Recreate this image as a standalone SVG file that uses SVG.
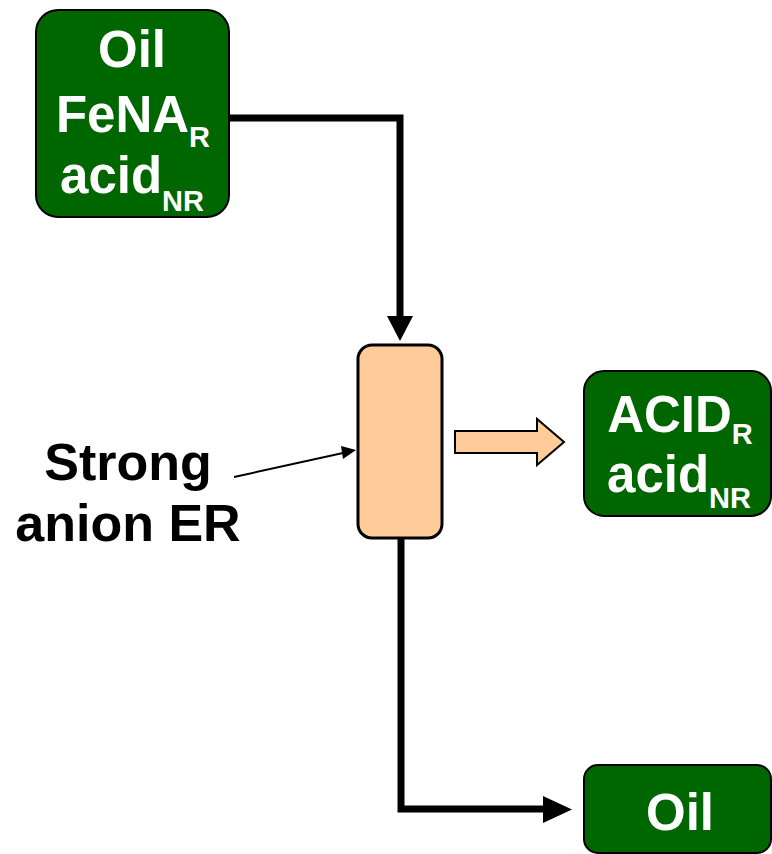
<svg xmlns="http://www.w3.org/2000/svg" width="772" height="854" viewBox="0 0 772 854">
<style>
.box{fill:#006600;stroke:#000;stroke-width:2}
.col{fill:#FFCC99;stroke:#000;stroke-width:3}
.wt{font-family:"Liberation Sans",Arial,sans-serif;font-weight:bold;font-size:51px;fill:#fff;text-anchor:middle}
.sub{font-size:29px}
.lbl{font-family:"Liberation Sans",Arial,sans-serif;font-weight:bold;font-size:52px;fill:#000;text-anchor:middle}
.flow{fill:none;stroke:#000;stroke-width:7}
</style>
<g id="connectors">
<polyline class="flow" points="229,118 400,118 400,318"/>
<path d="M387,316L413,316L400,341Z" fill="#000"/>
<polyline class="flow" points="401,538 401,809 545,809"/>
<path d="M543,796L572,809.5L543,823Z" fill="#000"/>
<line x1="234" y1="477" x2="343" y2="453" stroke="#000" stroke-width="2"/>
<path d="M341,446L356,450L343,459Z" fill="#000"/>
<polygon points="455,431 537,431 537,419 564,442 537,465 537,453 455,453" fill="#FFCC99" stroke="#000" stroke-width="2"/>
</g>
<g id="feed">
<rect class="box" x="36" y="10" width="193" height="207" rx="22"/>
<text class="wt" x="132" y="67">Oil</text>
<text class="wt" x="133" y="132">FeNA<tspan class="sub" dy="15">R</tspan></text>
<text class="wt" x="132" y="193">acid<tspan class="sub" dy="18">NR</tspan></text>
</g>
<g id="column">
<rect class="col" x="358" y="345" width="84" height="193" rx="14"/>
</g>
<g id="label">
<text class="lbl" x="128" y="480">Strong</text>
<text class="lbl" x="128" y="541">anion ER</text>
</g>
<g id="acid">
<rect class="box" x="584" y="371" width="187" height="145" rx="20"/>
<text class="wt" x="680" y="432">ACID<tspan class="sub" dy="12">R</tspan></text>
<text class="wt" x="679" y="492">acid<tspan class="sub" dy="16">NR</tspan></text>
</g>
<g id="oil">
<rect class="box" x="584" y="765" width="187" height="88" rx="14"/>
<text class="wt" x="680" y="830">Oil</text>
</g>
</svg>
